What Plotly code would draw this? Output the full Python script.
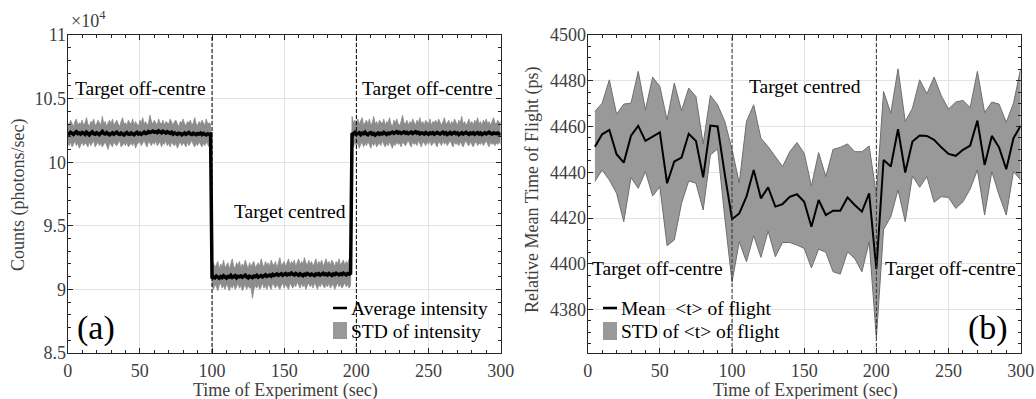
import plotly.graph_objects as go

# ---------------- Panel (a): photon counts (units of 1e4 photons/sec) ----------------
# segment 1: target off-centre, t = 0..99 s
upper_off1 = [
    10.31, 10.29, 10.33, 10.30, 10.28, 10.32, 10.34, 10.29, 10.31, 10.30,
    10.33, 10.29, 10.31, 10.35, 10.30, 10.28, 10.32, 10.31, 10.34, 10.29,
    10.30, 10.33, 10.31, 10.29, 10.36, 10.30, 10.32, 10.28, 10.31, 10.33,
    10.30, 10.34, 10.29, 10.31, 10.33, 10.30, 10.28, 10.32, 10.35, 10.30,
    10.31, 10.29, 10.33, 10.31, 10.30, 10.34, 10.29, 10.32, 10.30, 10.28,
    10.33, 10.31, 10.35, 10.30, 10.32, 10.29, 10.31, 10.37, 10.32, 10.30,
    10.33, 10.31, 10.29, 10.34, 10.31, 10.30, 10.33, 10.29, 10.32, 10.31,
    10.30, 10.34, 10.31, 10.29, 10.32, 10.33, 10.30, 10.28, 10.32, 10.31,
    10.34, 10.30, 10.29, 10.32, 10.31, 10.33, 10.29, 10.31, 10.35, 10.30,
    10.29, 10.32, 10.30, 10.33, 10.31, 10.29, 10.34, 10.30, 10.31, 10.30]
lower_off1 = [
    10.15, 10.13, 10.16, 10.12, 10.14, 10.17, 10.13, 10.15, 10.11, 10.14,
    10.16, 10.13, 10.15, 10.14, 10.12, 10.16, 10.13, 10.15, 10.17, 10.12,
    10.14, 10.16, 10.13, 10.15, 10.12, 10.14, 10.16, 10.13, 10.10, 10.15,
    10.14, 10.12, 10.16, 10.14, 10.13, 10.15, 10.17, 10.12, 10.14, 10.15,
    10.13, 10.16, 10.12, 10.14, 10.15, 10.13, 10.16, 10.11, 10.14, 10.15,
    10.16, 10.13, 10.15, 10.17, 10.14, 10.12, 10.16, 10.15, 10.13, 10.16,
    10.14, 10.17, 10.13, 10.15, 10.16, 10.12, 10.15, 10.14, 10.17, 10.13,
    10.15, 10.12, 10.16, 10.14, 10.13, 10.15, 10.11, 10.14, 10.16, 10.13,
    10.15, 10.14, 10.12, 10.16, 10.13, 10.15, 10.17, 10.14, 10.12, 10.15,
    10.13, 10.16, 10.14, 10.12, 10.15, 10.13, 10.16, 10.14, 10.12, 10.15]
mean_off1 = [
    10.230, 10.222, 10.235, 10.226, 10.218, 10.231, 10.240, 10.225, 10.229, 10.221,
    10.234, 10.228, 10.219, 10.236, 10.226, 10.215, 10.229, 10.238, 10.224, 10.220,
    10.232, 10.226, 10.217, 10.230, 10.241, 10.225, 10.221, 10.233, 10.227, 10.216,
    10.224, 10.231, 10.220, 10.228, 10.236, 10.223, 10.218, 10.229, 10.225, 10.214,
    10.226, 10.233, 10.221, 10.219, 10.230, 10.224, 10.216, 10.227, 10.235, 10.222,
    10.228, 10.219, 10.231, 10.237, 10.226, 10.229, 10.241, 10.233, 10.238, 10.244,
    10.235, 10.240, 10.232, 10.246, 10.238, 10.231, 10.243, 10.236, 10.229, 10.240,
    10.233, 10.226, 10.235, 10.221, 10.230, 10.224, 10.218, 10.229, 10.226, 10.215,
    10.224, 10.230, 10.219, 10.227, 10.233, 10.222, 10.218, 10.228, 10.224, 10.216,
    10.225, 10.221, 10.229, 10.217, 10.226, 10.220, 10.214, 10.224, 10.219, 10.222]

# segment 2: target centred, t = 100..196 s
upper_cen = [
    9.18, 9.21, 9.17, 9.19, 9.22, 9.16, 9.20, 9.18, 9.23, 9.17,
    9.19, 9.21, 9.16, 9.20, 9.24, 9.18, 9.17, 9.21, 9.19, 9.22,
    9.17, 9.20, 9.18, 9.23, 9.19, 9.16, 9.21, 9.18, 9.20, 9.22,
    9.17, 9.19, 9.21, 9.18, 9.24, 9.20, 9.17, 9.22, 9.19, 9.21,
    9.18, 9.23, 9.20, 9.19, 9.22, 9.17, 9.21, 9.25, 9.19, 9.20,
    9.22, 9.18, 9.21, 9.24, 9.19, 9.22, 9.20, 9.23, 9.18, 9.21,
    9.24, 9.19, 9.22, 9.20, 9.25, 9.21, 9.19, 9.23, 9.20, 9.22,
    9.18, 9.21, 9.24, 9.19, 9.22, 9.20, 9.23, 9.18, 9.21, 9.24,
    9.20, 9.22, 9.19, 9.23, 9.21, 9.18, 9.22, 9.20, 9.24, 9.19,
    9.21, 9.23, 9.19, 9.22, 9.20, 9.24, 9.21]
lower_cen = [
    9.03, 9.00, 9.04, 9.02, 8.99, 9.03, 9.05, 9.01, 9.03, 9.00,
    9.04, 9.02, 8.99, 9.03, 9.01, 9.04, 9.00, 9.02, 9.05, 9.01,
    9.03, 8.99, 9.02, 9.04, 9.00, 9.03, 9.01, 9.02, 8.93, 9.00,
    9.03, 9.01, 9.04, 9.00, 9.02, 9.05, 9.01, 9.03, 9.00, 9.04,
    9.02, 9.00, 9.05, 9.03, 9.01, 9.04, 9.02, 9.00, 9.03, 9.05,
    9.01, 9.04, 9.02, 9.00, 9.05, 9.03, 9.01, 9.04, 9.02, 9.06,
    9.03, 9.01, 9.05, 9.02, 9.04, 9.00, 9.03, 9.05, 9.02, 9.04,
    9.01, 9.05, 9.03, 9.00, 9.04, 9.02, 9.05, 9.03, 9.01, 9.04,
    9.02, 9.05, 9.01, 9.03, 9.04, 9.00, 9.03, 9.05, 9.02, 9.04,
    9.01, 9.03, 9.05, 9.02, 9.04, 9.01, 9.03]
mean_cen = [
    9.085, 9.098, 9.091, 9.104, 9.095, 9.088, 9.101, 9.093, 9.107, 9.096,
    9.089, 9.102, 9.097, 9.110, 9.094, 9.100, 9.108, 9.092, 9.103, 9.099,
    9.106, 9.095, 9.101, 9.112, 9.098, 9.090, 9.104, 9.097, 9.093, 9.105,
    9.100, 9.111, 9.096, 9.103, 9.109, 9.098, 9.106, 9.115, 9.102, 9.108,
    9.113, 9.104, 9.118, 9.109, 9.115, 9.121, 9.110, 9.117, 9.124, 9.112,
    9.119, 9.126, 9.114, 9.122, 9.117, 9.128, 9.120, 9.113, 9.125, 9.119,
    9.111, 9.123, 9.116, 9.108, 9.120, 9.114, 9.126, 9.118, 9.112, 9.121,
    9.115, 9.109, 9.122, 9.117, 9.124, 9.113, 9.119, 9.127, 9.116, 9.121,
    9.113, 9.125, 9.118, 9.110, 9.122, 9.116, 9.127, 9.119, 9.114, 9.123,
    9.117, 9.128, 9.121, 9.115, 9.124, 9.119, 9.126]

# segment 3: target off-centre, t = 197..300 s
upper_off2 = [
    10.36, 10.31, 10.33, 10.29, 10.34, 10.30, 10.32, 10.35, 10.29, 10.31,
    10.33, 10.30, 10.34, 10.29, 10.31, 10.36, 10.30, 10.32, 10.29, 10.33,
    10.31, 10.30, 10.34, 10.29, 10.32, 10.31, 10.35, 10.30, 10.28, 10.33,
    10.31, 10.34, 10.30, 10.29, 10.32, 10.37, 10.31, 10.30, 10.33, 10.29,
    10.32, 10.30, 10.34, 10.31, 10.29, 10.33, 10.31, 10.35, 10.30, 10.32,
    10.29, 10.33, 10.31, 10.30, 10.34, 10.29, 10.32, 10.31, 10.33, 10.30,
    10.34, 10.31, 10.29, 10.32, 10.35, 10.30, 10.31, 10.33, 10.29, 10.32,
    10.30, 10.34, 10.31, 10.29, 10.33, 10.31, 10.36, 10.30, 10.32, 10.29,
    10.31, 10.34, 10.30, 10.32, 10.29, 10.33, 10.31, 10.35, 10.30, 10.32,
    10.29, 10.33, 10.31, 10.34, 10.30, 10.32, 10.29, 10.33, 10.35, 10.31,
    10.30, 10.33, 10.31, 10.32]
lower_off2 = [
    10.14, 10.12, 10.16, 10.13, 10.15, 10.11, 10.14, 10.16, 10.12, 10.15,
    10.13, 10.16, 10.14, 10.11, 10.15, 10.13, 10.16, 10.12, 10.14, 10.15,
    10.13, 10.17, 10.14, 10.12, 10.15, 10.13, 10.16, 10.14, 10.11, 10.15,
    10.13, 10.16, 10.14, 10.15, 10.12, 10.16, 10.14, 10.13, 10.15, 10.17,
    10.14, 10.12, 10.16, 10.14, 10.15, 10.13, 10.17, 10.14, 10.12, 10.16,
    10.15, 10.13, 10.16, 10.14, 10.17, 10.13, 10.15, 10.16, 10.14, 10.12,
    10.16, 10.15, 10.13, 10.17, 10.14, 10.16, 10.13, 10.15, 10.17, 10.14,
    10.12, 10.16, 10.14, 10.15, 10.13, 10.16, 10.14, 10.12, 10.15, 10.17,
    10.14, 10.13, 10.16, 10.14, 10.12, 10.15, 10.16, 10.13, 10.15, 10.14,
    10.16, 10.13, 10.15, 10.17, 10.14, 10.12, 10.16, 10.14, 10.15, 10.13,
    10.15, 10.14, 10.16, 10.14]
mean_off2 = [
    10.228, 10.221, 10.234, 10.219, 10.226, 10.231, 10.217, 10.229, 10.224, 10.236,
    10.222, 10.215, 10.228, 10.233, 10.220, 10.226, 10.213, 10.224, 10.230, 10.219,
    10.227, 10.222, 10.235, 10.226, 10.218, 10.229, 10.224, 10.231, 10.236, 10.227,
    10.233, 10.240, 10.229, 10.235, 10.226, 10.232, 10.238, 10.228, 10.234, 10.225,
    10.231, 10.237, 10.226, 10.233, 10.240, 10.229, 10.235, 10.223, 10.231, 10.228,
    10.221, 10.233, 10.227, 10.219, 10.230, 10.225, 10.232, 10.220, 10.227, 10.234,
    10.226, 10.221, 10.229, 10.236, 10.224, 10.231, 10.218, 10.227, 10.233, 10.222,
    10.229, 10.235, 10.224, 10.230, 10.216, 10.226, 10.232, 10.221, 10.228, 10.235,
    10.225, 10.219, 10.230, 10.224, 10.232, 10.220, 10.227, 10.233, 10.222, 10.229,
    10.218, 10.226, 10.231, 10.223, 10.229, 10.236, 10.225, 10.221, 10.230, 10.227,
    10.224, 10.229, 10.222, 10.226]

t_off1 = list(range(0, 100))
t_cen = list(range(100, 197))
t_off2 = list(range(197, 301))

# ---------------- Panel (b): relative mean time of flight (ps) ----------------
t_tof = list(range(5, 301, 5))
tof_mean = [
    4451.2, 4456.6, 4458.5, 4447.9, 4444.2, 4456.0, 4460.3, 4453.7, 4455.6, 4457.4,
    4435.2, 4444.7, 4446.4, 4456.8, 4453.7, 4437.8, 4460.4, 4460.0, 4439.0, 4419.5,
    4422.0, 4429.3, 4441.0, 4428.6, 4433.4, 4425.0, 4426.1, 4429.3, 4430.4, 4427.1,
    4416.2, 4427.9, 4421.3, 4423.2, 4423.2, 4429.0, 4425.7, 4422.8, 4430.8, 4397.6,
    4445.4, 4442.5, 4458.8, 4439.9, 4453.4, 4456.1, 4455.9, 4454.2, 4450.9, 4448.0,
    4447.2, 4449.8, 4451.7, 4462.6, 4443.2, 4455.9, 4450.9, 4441.3, 4454.9, 4460.3]
tof_upper = [
    4466.6, 4470.2, 4480.4, 4465.4, 4469.8, 4470.2, 4484.1, 4467.3, 4481.6, 4477.5,
    4462.9, 4479.0, 4466.9, 4476.8, 4473.1, 4452.4, 4473.6, 4469.5, 4462.2, 4450.0,
    4435.3, 4462.2, 4469.5, 4454.9, 4451.2, 4446.9, 4442.5, 4449.0, 4453.0, 4448.3,
    4434.0, 4448.6, 4438.1, 4450.0, 4450.9, 4452.4, 4449.0, 4449.0, 4451.5, 4430.0,
    4475.3, 4465.8, 4485.2, 4462.2, 4468.0, 4480.4, 4474.3, 4481.6, 4473.4, 4467.6,
    4470.7, 4471.4, 4468.3, 4484.1, 4466.1, 4470.7, 4469.8, 4461.8, 4470.2, 4485.2]
tof_lower = [
    4436.0, 4441.0, 4436.6, 4430.8, 4418.4, 4437.7, 4433.0, 4440.3, 4429.6, 4433.7,
    4407.9, 4410.4, 4426.4, 4436.2, 4435.2, 4423.5, 4447.6, 4450.2, 4420.0, 4392.0,
    4409.6, 4400.9, 4412.3, 4402.8, 4414.3, 4403.1, 4409.3, 4409.3, 4408.2, 4406.7,
    4398.2, 4406.4, 4405.0, 4396.5, 4395.5, 4405.2, 4402.3, 4396.5, 4409.6, 4367.5,
    4415.0, 4420.6, 4432.3, 4418.4, 4438.4, 4433.4, 4438.1, 4426.9, 4429.3, 4429.0,
    4424.2, 4427.1, 4432.7, 4441.0, 4421.3, 4440.3, 4430.1, 4421.3, 4440.3, 4436.6]

x_ticks = [0, 50, 100, 150, 200, 250, 300]
a_ticks = [8.5, 9, 9.5, 10, 10.5, 11]
a_ticktext = ["8.5", "9", "9.5", "10", "10.5", "11"]
b_ticks = [4380, 4400, 4420, 4440, 4460, 4480, 4500]
switch_times = [100, 200]

# ---------------- figure ----------------
W, H = 1036, 399
FONT = "Liberation Serif, Times New Roman, serif"
AXC = "#262626"
TXT = "#404040"


def fx(p):
    return p / W


def fy(p):
    return 1 - p / H


t_all = t_off1 + t_cen + t_off2
up_all = upper_off1 + upper_cen + upper_off2
lo_all = lower_off1 + lower_cen + lower_off2
mn_all = mean_off1 + mean_cen + mean_off2

fig = go.Figure()
BAND_A = "#8c8c8c"
fig.add_trace(go.Scatter(x=t_all, y=lo_all, mode="lines", line=dict(color=BAND_A, width=0.8),
                         showlegend=False, xaxis="x", yaxis="y", hoverinfo="skip"))
fig.add_trace(go.Scatter(x=t_all, y=up_all, mode="lines", line=dict(color=BAND_A, width=0.8),
                         fill="tonexty", fillcolor=BAND_A, showlegend=False,
                         xaxis="x", yaxis="y", hoverinfo="skip"))
fig.add_trace(go.Scatter(x=t_all, y=mn_all, mode="lines", line=dict(color="black", width=3.5),
                         showlegend=False, xaxis="x", yaxis="y"))

BAND_B = "#999999"
fig.add_trace(go.Scatter(x=t_tof, y=tof_lower, mode="lines", line=dict(color="#6e6e6e", width=1),
                         showlegend=False, xaxis="x2", yaxis="y2", hoverinfo="skip"))
fig.add_trace(go.Scatter(x=t_tof, y=tof_upper, mode="lines", line=dict(color="#6e6e6e", width=1),
                         fill="tonexty", fillcolor=BAND_B, showlegend=False,
                         xaxis="x2", yaxis="y2", hoverinfo="skip"))
fig.add_trace(go.Scatter(x=t_tof, y=tof_mean, mode="lines", line=dict(color="black", width=2),
                         showlegend=False, xaxis="x2", yaxis="y2"))

xl0, xl1 = 67.7, 500.7
xr0, xr1 = 587.7, 1020.7
yt, yb = 35, 353

common_x = dict(
    range=[0, 300], tickvals=x_ticks, ticks="inside", ticklen=5, tickcolor=AXC,
    showline=True, linecolor=AXC, linewidth=1, mirror="allticks", automargin=False,
    showgrid=True, gridcolor="#e3e3e3", gridwidth=1, zeroline=False,
    tickfont=dict(family=FONT, size=18, color=TXT), ticklabelstandoff=1,
    minor=dict(ticks="inside", dtick=10, ticklen=3, tickcolor=AXC, showgrid=False),
)
common_y = dict(
    ticks="inside", ticklen=5, tickcolor=AXC, automargin=False,
    showline=True, linecolor=AXC, linewidth=1, mirror="allticks",
    showgrid=True, gridcolor="#e3e3e3", gridwidth=1, zeroline=False,
    tickfont=dict(family=FONT, size=18, color=TXT), ticklabelstandoff=-3,
)

fig.update_layout(
    width=W, height=H, margin=dict(l=0, r=0, t=0, b=0),
    paper_bgcolor="white", plot_bgcolor="white", showlegend=False,
    xaxis=dict(domain=[fx(xl0), fx(xl1)], anchor="y", **common_x),
    xaxis2=dict(domain=[fx(xr0), fx(xr1)], anchor="y2", **common_x),
    yaxis=dict(domain=[1 - yb / H, 1 - yt / H], anchor="x", range=[8.5, 11],
               tickvals=a_ticks, ticktext=a_ticktext,
               minor=dict(ticks="inside", dtick=0.1, ticklen=3, tickcolor=AXC, showgrid=False),
               **common_y),
    yaxis2=dict(domain=[1 - yb / H, 1 - yt / H], anchor="x2", range=[4361, 4500],
                tickvals=b_ticks,
                minor=dict(ticks="inside", dtick=5, ticklen=3, tickcolor=AXC, showgrid=False),
                **common_y),
)

shapes = []
for xs in switch_times:
    shapes.append(dict(type="line", xref="x", yref="y domain", x0=xs, x1=xs, y0=0, y1=1,
                       line=dict(color="black", width=1, dash="4px,2px"), layer="above"))
    shapes.append(dict(type="line", xref="x2", yref="y2 domain", x0=xs, x1=xs, y0=0, y1=1,
                       line=dict(color="#333333", width=1, dash="4px,2px"), layer="above"))

# legend samples (a)
shapes.append(dict(type="line", xref="paper", yref="paper", x0=fx(333), x1=fx(347), y0=fy(308), y1=fy(308),
                   line=dict(color="black", width=2.5)))
shapes.append(dict(type="rect", xref="paper", yref="paper", x0=fx(333), x1=fx(347), y0=fy(339), y1=fy(322),
                   fillcolor="#999999", line=dict(width=0)))
# legend samples (b)
shapes.append(dict(type="line", xref="paper", yref="paper", x0=fx(603), x1=fx(617), y0=fy(308), y1=fy(308),
                   line=dict(color="black", width=2.5)))
shapes.append(dict(type="rect", xref="paper", yref="paper", x0=fx(603), x1=fx(617), y0=fy(340), y1=fy(322),
                   fillcolor="#999999", line=dict(width=0)))
fig.update_layout(shapes=shapes)

ann_font = dict(family=FONT, size=19.5, color="black")
title_font = dict(family=FONT, size=18, color=TXT)
annotations = [
    dict(text="Target off-centre", x=50.4, y=10.583, xref="x", yref="y", showarrow=False, font=ann_font),
    dict(text="Target off-centre", x=249.5, y=10.583, xref="x", yref="y", showarrow=False, font=ann_font),
    dict(text="Target centred", x=154, y=9.616, xref="x", yref="y", showarrow=False, font=ann_font),
    dict(text="(a)", x=19.6, y=8.70, xref="x", yref="y", showarrow=False,
         font=dict(family=FONT, size=34, color="black")),
    dict(text="Target centred", x=150.6, y=4477.3, xref="x2", yref="y2", showarrow=False, font=ann_font),
    dict(text="Target off-centre", x=48.4, y=4397.8, xref="x2", yref="y2", showarrow=False, font=ann_font),
    dict(text="Target off-centre", x=251.6, y=4397.8, xref="x2", yref="y2", showarrow=False, font=ann_font),
    dict(text="(b)", x=277.4, y=4372, xref="x2", yref="y2", showarrow=False,
         font=dict(family=FONT, size=34, color="black")),
    dict(text="×10<sup>4</sup>", x=fx(69), y=fy(33), xref="paper", yref="paper", xanchor="left",
         yanchor="bottom", showarrow=False, font=dict(family=FONT, size=18, color=TXT)),
    dict(text="Average intensity", x=fx(349), y=fy(308), xref="paper", yref="paper", xanchor="left",
         yanchor="middle", showarrow=False, font=ann_font),
    dict(text="STD of intensity", x=fx(349), y=fy(331), xref="paper", yref="paper", xanchor="left",
         yanchor="middle", showarrow=False, font=ann_font),
    dict(text="Mean\u00a0 &lt;t&gt; of flight", x=fx(619), y=fy(308), xref="paper", yref="paper",
         xanchor="left", yanchor="middle", showarrow=False, font=ann_font),
    dict(text="STD of &lt;t&gt; of flight", x=fx(619), y=fy(331), xref="paper", yref="paper",
         xanchor="left", yanchor="middle", showarrow=False, font=ann_font),
    # axis titles
    dict(text="Time of Experiment (sec)", x=fx(285), y=fy(402), xref="paper", yref="paper",
         xanchor="center", yanchor="bottom", borderpad=0, showarrow=False, font=title_font),
    dict(text="Time of Experiment (sec)", x=fx(805), y=fy(402), xref="paper", yref="paper",
         xanchor="center", yanchor="bottom", borderpad=0, showarrow=False, font=title_font),
    dict(text="Counts (photons/sec)", x=fx(18), y=fy(195), xref="paper", yref="paper", textangle=-90,
         xanchor="center", yanchor="middle", showarrow=False, font=title_font),
    dict(text="Relative Mean Time of Flight (ps)", x=fx(532), y=fy(190), xref="paper", yref="paper",
         textangle=-90, xanchor="center", yanchor="middle", showarrow=False, font=title_font),
]
fig.update_layout(annotations=annotations)

fig.write_html("out.html")
